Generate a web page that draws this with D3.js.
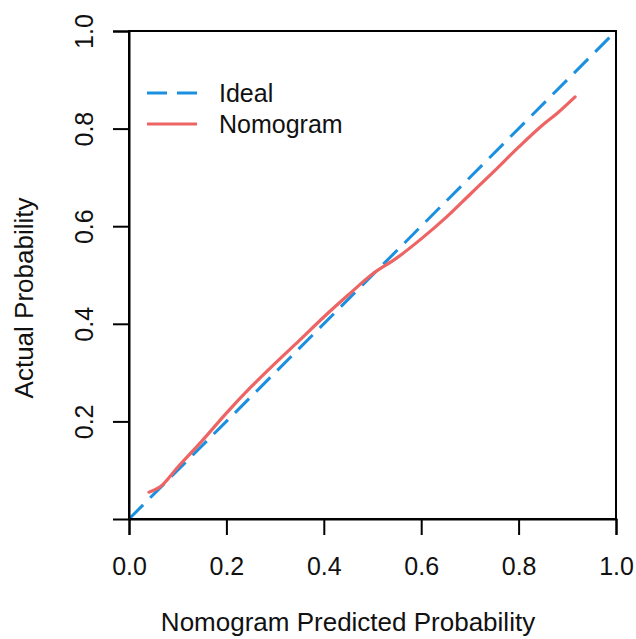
<!DOCTYPE html>
<html>
<head>
<meta charset="utf-8">
<script src="https://cdn.jsdelivr.net/npm/d3@7"></script>
<style>
  body { margin: 0; background: #fff; }
  text { font-family: "Liberation Sans", Arial, sans-serif; fill: #111; }
</style>
</head>
<body>
<div id="chart"></div>
<script>
// calibration curve
const predicted = [0.041, 0.064, 0.10, 0.15, 0.20, 0.25, 0.30, 0.35, 0.40, 0.45, 0.50, 0.55, 0.60, 0.65, 0.70, 0.75, 0.80, 0.85, 0.88, 0.916];
const actual    = [0.055, 0.066, 0.106, 0.160, 0.217, 0.270, 0.319, 0.366, 0.414, 0.459, 0.502, 0.535, 0.574, 0.617, 0.665, 0.713, 0.762, 0.808, 0.832, 0.865];
const ideal = [0, 1];
const xTicks = [0, 0.2, 0.4, 0.6, 0.8, 1.0];
const yTicks = [0.2, 0.4, 0.6, 0.8, 1.0];
const legendLabels = ["Ideal", "Nomogram"];

const W = 636, H = 639;
const margin = { top: 31, right: 20, bottom: 120, left: 129 };
const blue = "#1B8FE0", red = "#EE6464";

const svg = d3.select("#chart").append("svg")
  .attr("width", W)
  .attr("height", H);

const x = d3.scaleLinear().domain([0, 1]).range([margin.left, W - margin.right]);
const y = d3.scaleLinear().domain([0, 1]).range([H - margin.bottom, margin.top]);

// ideal diagonal
svg.append("line")
  .attr("x1", x(ideal[0])).attr("y1", y(ideal[0]))
  .attr("x2", x(ideal[1])).attr("y2", y(ideal[1]))
  .attr("stroke", blue)
  .attr("stroke-width", 3)
  .attr("stroke-dasharray", "20,10");

// nomogram curve
const line = d3.line()
  .x(d => x(d[0]))
  .y(d => y(d[1]))
  .curve(d3.curveMonotoneX);

svg.append("path")
  .datum(predicted.map((p, i) => [p, actual[i]]))
  .attr("d", line)
  .attr("fill", "none")
  .attr("stroke", red)
  .attr("stroke-width", 3.2)
  .attr("stroke-linecap", "round");

// box
svg.append("rect")
  .attr("x", x(0)).attr("y", y(1))
  .attr("width", x(1) - x(0)).attr("height", y(0) - y(1))
  .attr("fill", "none")
  .attr("stroke", "#000")
  .attr("stroke-width", 2);

// axes
const xAxis = svg.append("g")
  .attr("transform", `translate(0,${y(0)})`)
  .call(d3.axisBottom(x).tickValues(xTicks).tickSize(16).tickFormat(d3.format(".1f")));

const yAxis = svg.append("g")
  .attr("transform", `translate(${x(0)},0)`)
  .call(d3.axisLeft(y).tickValues(yTicks).tickSize(16).tickFormat(d3.format(".1f")));

[xAxis, yAxis].forEach(g => {
  g.select(".domain").attr("stroke", "#000").attr("stroke-width", 2);
  g.selectAll(".tick line").attr("stroke", "#000").attr("stroke-width", 2);
  g.selectAll(".tick text")
    .attr("font-family", "Liberation Sans, Arial, sans-serif")
    .attr("font-size", 25)
    .attr("fill", "#111");
});

xAxis.selectAll(".tick text").attr("dy", null).attr("y", 0)
  .attr("transform", "translate(0,56)");

yAxis.selectAll(".tick text")
  .attr("x", null).attr("dy", null)
  .attr("text-anchor", "middle")
  .attr("transform", "translate(-36,0) rotate(-90)");

// axis titles
svg.append("text")
  .attr("x", 348)
  .attr("y", 631)
  .attr("text-anchor", "middle")
  .attr("font-size", 26)
  .text("Nomogram Predicted Probability");

svg.append("text")
  .attr("transform", "translate(33,298) rotate(-90)")
  .attr("text-anchor", "middle")
  .attr("font-size", 26)
  .text("Actual Probability");

// legend
const legend = svg.append("g");
const legendColors = [blue, red];
legendLabels.forEach((lab, i) => {
  const ly = 93 + i * 31;
  legend.append("line")
    .attr("x1", 147).attr("x2", 197)
    .attr("y1", ly).attr("y2", ly)
    .attr("stroke", legendColors[i])
    .attr("stroke-width", 3)
    .attr("stroke-dasharray", i === 0 ? "20,10" : null);
  legend.append("text")
    .attr("x", 219)
    .attr("y", ly + 9)
    .attr("font-size", 25)
    .text(lab);
});
</script>
</body>
</html>
